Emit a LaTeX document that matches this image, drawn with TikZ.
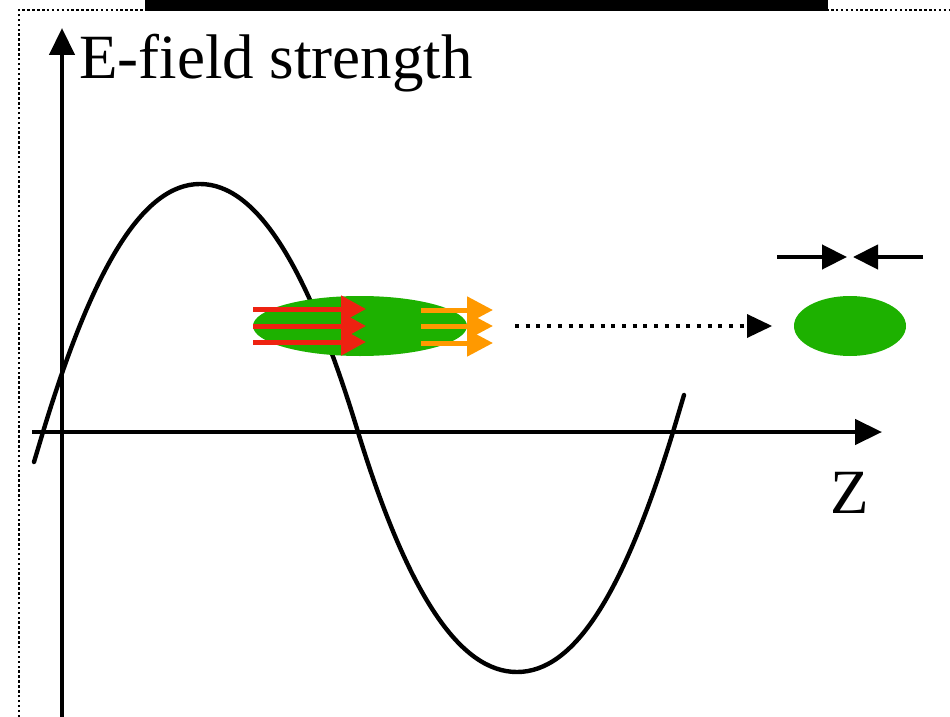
\documentclass[tikz,border=0pt]{standalone}
\usepackage{fontspec}
\setmainfont{Liberation Serif}
\usetikzlibrary{arrows.meta}
\definecolor{bunchgreen}{RGB}{29,177,0}
\definecolor{kickred}{RGB}{238,34,17}
\definecolor{kickorange}{RGB}{255,153,0}
\tikzset{
  axisline/.style={line width=4.4pt,-{Triangle[length=27pt,width=25pt]}},
  wave/.style={line width=4.4pt,line cap=round},
  redarrow/.style={kickred,line width=5pt,-{Triangle[length=25pt,width=26pt]}},
  orangearrow/.style={kickorange,line width=5pt,-{Triangle[length=26pt,width=26pt]}},
  blackarrow/.style={line width=4.4pt,-{Triangle[length=25pt,width=24pt]}},
  dottedarrow/.style={line width=4.4pt,dash pattern=on 4pt off 6.7pt,-{Triangle[length=25pt,width=24pt,line width=0pt]}},
  frameline/.style={line width=2.5pt,dash pattern=on 2.5pt off 2.4pt},
  bigfont/.style={font=\fontsize{63}{75}\selectfont,inner sep=0pt}
}
\begin{document}
\begin{tikzpicture}[x=1pt,y=-1pt]
\useasboundingbox (0,0) rectangle (950,717);
% frame
\draw[frameline] (19,717) -- (19,10) -- (950,10);
\fill[black] (145,0) rectangle (828,11);
% axes
\coordinate (ybot) at (62,717);
\coordinate (ytop) at (62,28);
\coordinate (xleft) at (32,432);
\coordinate (xright) at (882,432);
\draw[axisline] (ybot) -- (ytop);
\draw[axisline] (xleft) -- (xright);
\node[bigfont,anchor=base west] (ylabel) at (79,78) {E-field strength};
\node[bigfont,anchor=base] (zlabel) at (850,513) {Z};
% wave
\draw[wave] (34,462) -- (43,432)
  .. controls (93,267) and (143,184) .. (200,184)
  .. controls (257,184) and (308,267) .. (358,432)
  .. controls (408,595) and (460,672) .. (517,672)
  .. controls (574,672) and (623,595) .. (673,432) -- (684,395);
% bunches
\fill[bunchgreen] (360,326) ellipse [x radius=107, y radius=30];
\fill[bunchgreen] (850,326) ellipse [x radius=56, y radius=30];
% red arrows
\foreach \yy in {309,326,342} {
  \draw[redarrow] (253,\yy) -- (366,\yy);
}
% orange arrows
\foreach \yy in {310,326,343} {
  \draw[orangearrow] (421,\yy) -- (493,\yy);
}
% dotted arrow
\coordinate (dstart) at (515,326);
\coordinate (dend) at (772,326);
\draw[dottedarrow] (dstart) -- (dend);
% converging arrows
\coordinate (cl) at (777,257);
\coordinate (clt) at (847,257);
\coordinate (cr) at (923,257);
\coordinate (crt) at (853,257);
\draw[blackarrow] (cl) -- (clt);
\draw[blackarrow] (cr) -- (crt);
\end{tikzpicture}
\end{document}
